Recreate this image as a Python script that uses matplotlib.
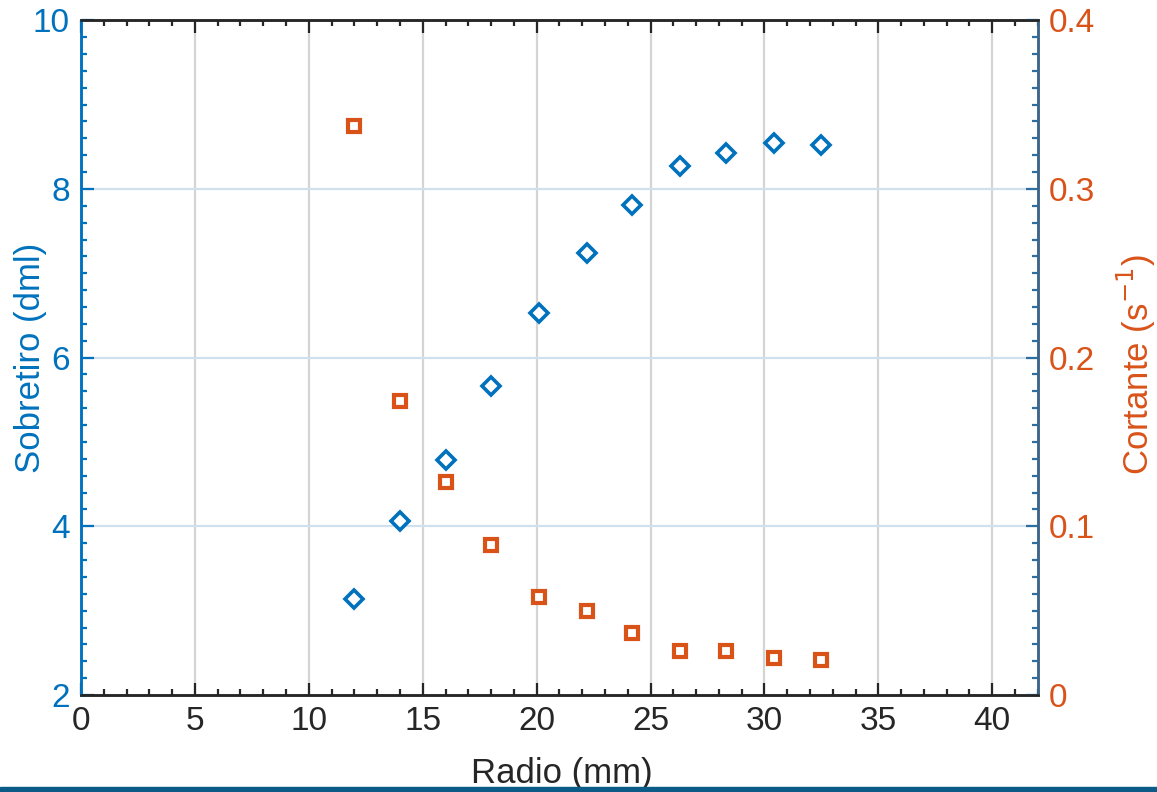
#!/usr/bin/env python3
# Sobretiro / Cortante vs radio, MATLAB-style yyaxis look
import matplotlib
matplotlib.use("Agg")
import matplotlib.pyplot as plt
from matplotlib.patches import Rectangle
from matplotlib.ticker import MultipleLocator

# ---------- data ----------
radio_mm  = [12.0, 14.0, 16.0, 18.0, 20.1, 22.2, 24.2, 26.3, 28.3, 30.4, 32.5]
sobretiro = [3.14, 4.06, 4.79, 5.66, 6.53, 7.24, 7.81, 8.27, 8.42, 8.54, 8.52]
cortante  = [0.337, 0.174, 0.126, 0.089, 0.058, 0.050, 0.037, 0.026, 0.026, 0.022, 0.021]

x_ticks  = [0, 5, 10, 15, 20, 25, 30, 35, 40]
yl_ticks = [2, 4, 6, 8, 10]
yr_ticks = [0, 0.1, 0.2, 0.3, 0.4]
yr_labels = ["0", "0.1", "0.2", "0.3", "0.4"]

BLUE   = "#0072BD"
ORANGE = "#D95319"
plt.rcParams["font.family"] = ["Liberation Sans", "DejaVu Sans"]

fig = plt.figure(figsize=(11.57, 7.92), dpi=100)
ax = fig.add_axes([0.070, 0.1225, 0.827, 0.852])
ax2 = ax.twinx()

# grid (vertical grey, horizontal pale blue like yyaxis left)
for xv in x_ticks[1:]:
    ax.axvline(xv, color="#d4d4d4", lw=1.6, zorder=0)
for yv in yl_ticks[1:-1]:
    ax.axhline(yv, color="#cfe0ee", lw=1.6, zorder=0)

ax.plot(radio_mm, sobretiro, ls="none", marker="D", ms=9.5, mew=2.6,
        mfc="white", mec=BLUE, zorder=3)
ax2.plot(radio_mm, cortante, ls="none", marker="s", ms=8.5, mew=3.0,
         mfc="white", mec=ORANGE, zorder=3)

ax.set_xlim(0, 42)
ax.set_ylim(2, 10)
ax2.set_ylim(0, 0.4)

ax.set_xticks(x_ticks)
ax.set_yticks(yl_ticks)
ax2.set_yticks(yr_ticks)
ax2.set_yticklabels(yr_labels)
ax.xaxis.set_minor_locator(MultipleLocator(1))
ax.yaxis.set_minor_locator(MultipleLocator(0.2))
ax2.yaxis.set_minor_locator(MultipleLocator(0.01))

ax.tick_params(axis="x", which="both", direction="in", top=True, colors="#262626",
               labelsize=24, pad=8, width=1.6)
ax.tick_params(axis="x", which="major", length=9)
ax.tick_params(axis="x", which="minor", length=4)
ax.tick_params(axis="y", which="both", direction="in", colors=BLUE,
               labelsize=24, pad=8, width=1.6)
ax.tick_params(axis="y", which="major", length=9)
ax.tick_params(axis="y", which="minor", length=4)
ax2.tick_params(axis="y", which="both", direction="in", colors="#2f6f9f",
                labelcolor=ORANGE, labelsize=24, pad=8, width=1.6)
ax2.tick_params(axis="y", which="major", length=9)
ax2.tick_params(axis="y", which="minor", length=4)

for a in (ax, ax2):
    a.spines["top"].set_color("#262626")
    a.spines["bottom"].set_color("#262626")
    a.spines["left"].set_color(BLUE)
    a.spines["right"].set_color("#3d6688")
    for s in a.spines.values():
        s.set_linewidth(1.8)

ax.set_xlabel("Radio (mm)", fontsize=25, color="#262626")
ax.set_ylabel("Sobretiro (dml)", fontsize=25, color=BLUE)
ax2.set_ylabel("Cortante (s$^{-1}$)", fontsize=25, color=ORANGE)
ax.xaxis.set_label_coords(0.502, -0.092)
ax.yaxis.set_label_coords(-0.036, 0.50)
ax2.yaxis.set_label_coords(1.080, 0.49)

# dark band along the bottom edge of the screenshot
fig.add_artist(Rectangle((0, 0), 1, 5 / 792, transform=fig.transFigure,
                         color="#0b5a87", zorder=10))

fig.savefig("out.png", dpi=100)
